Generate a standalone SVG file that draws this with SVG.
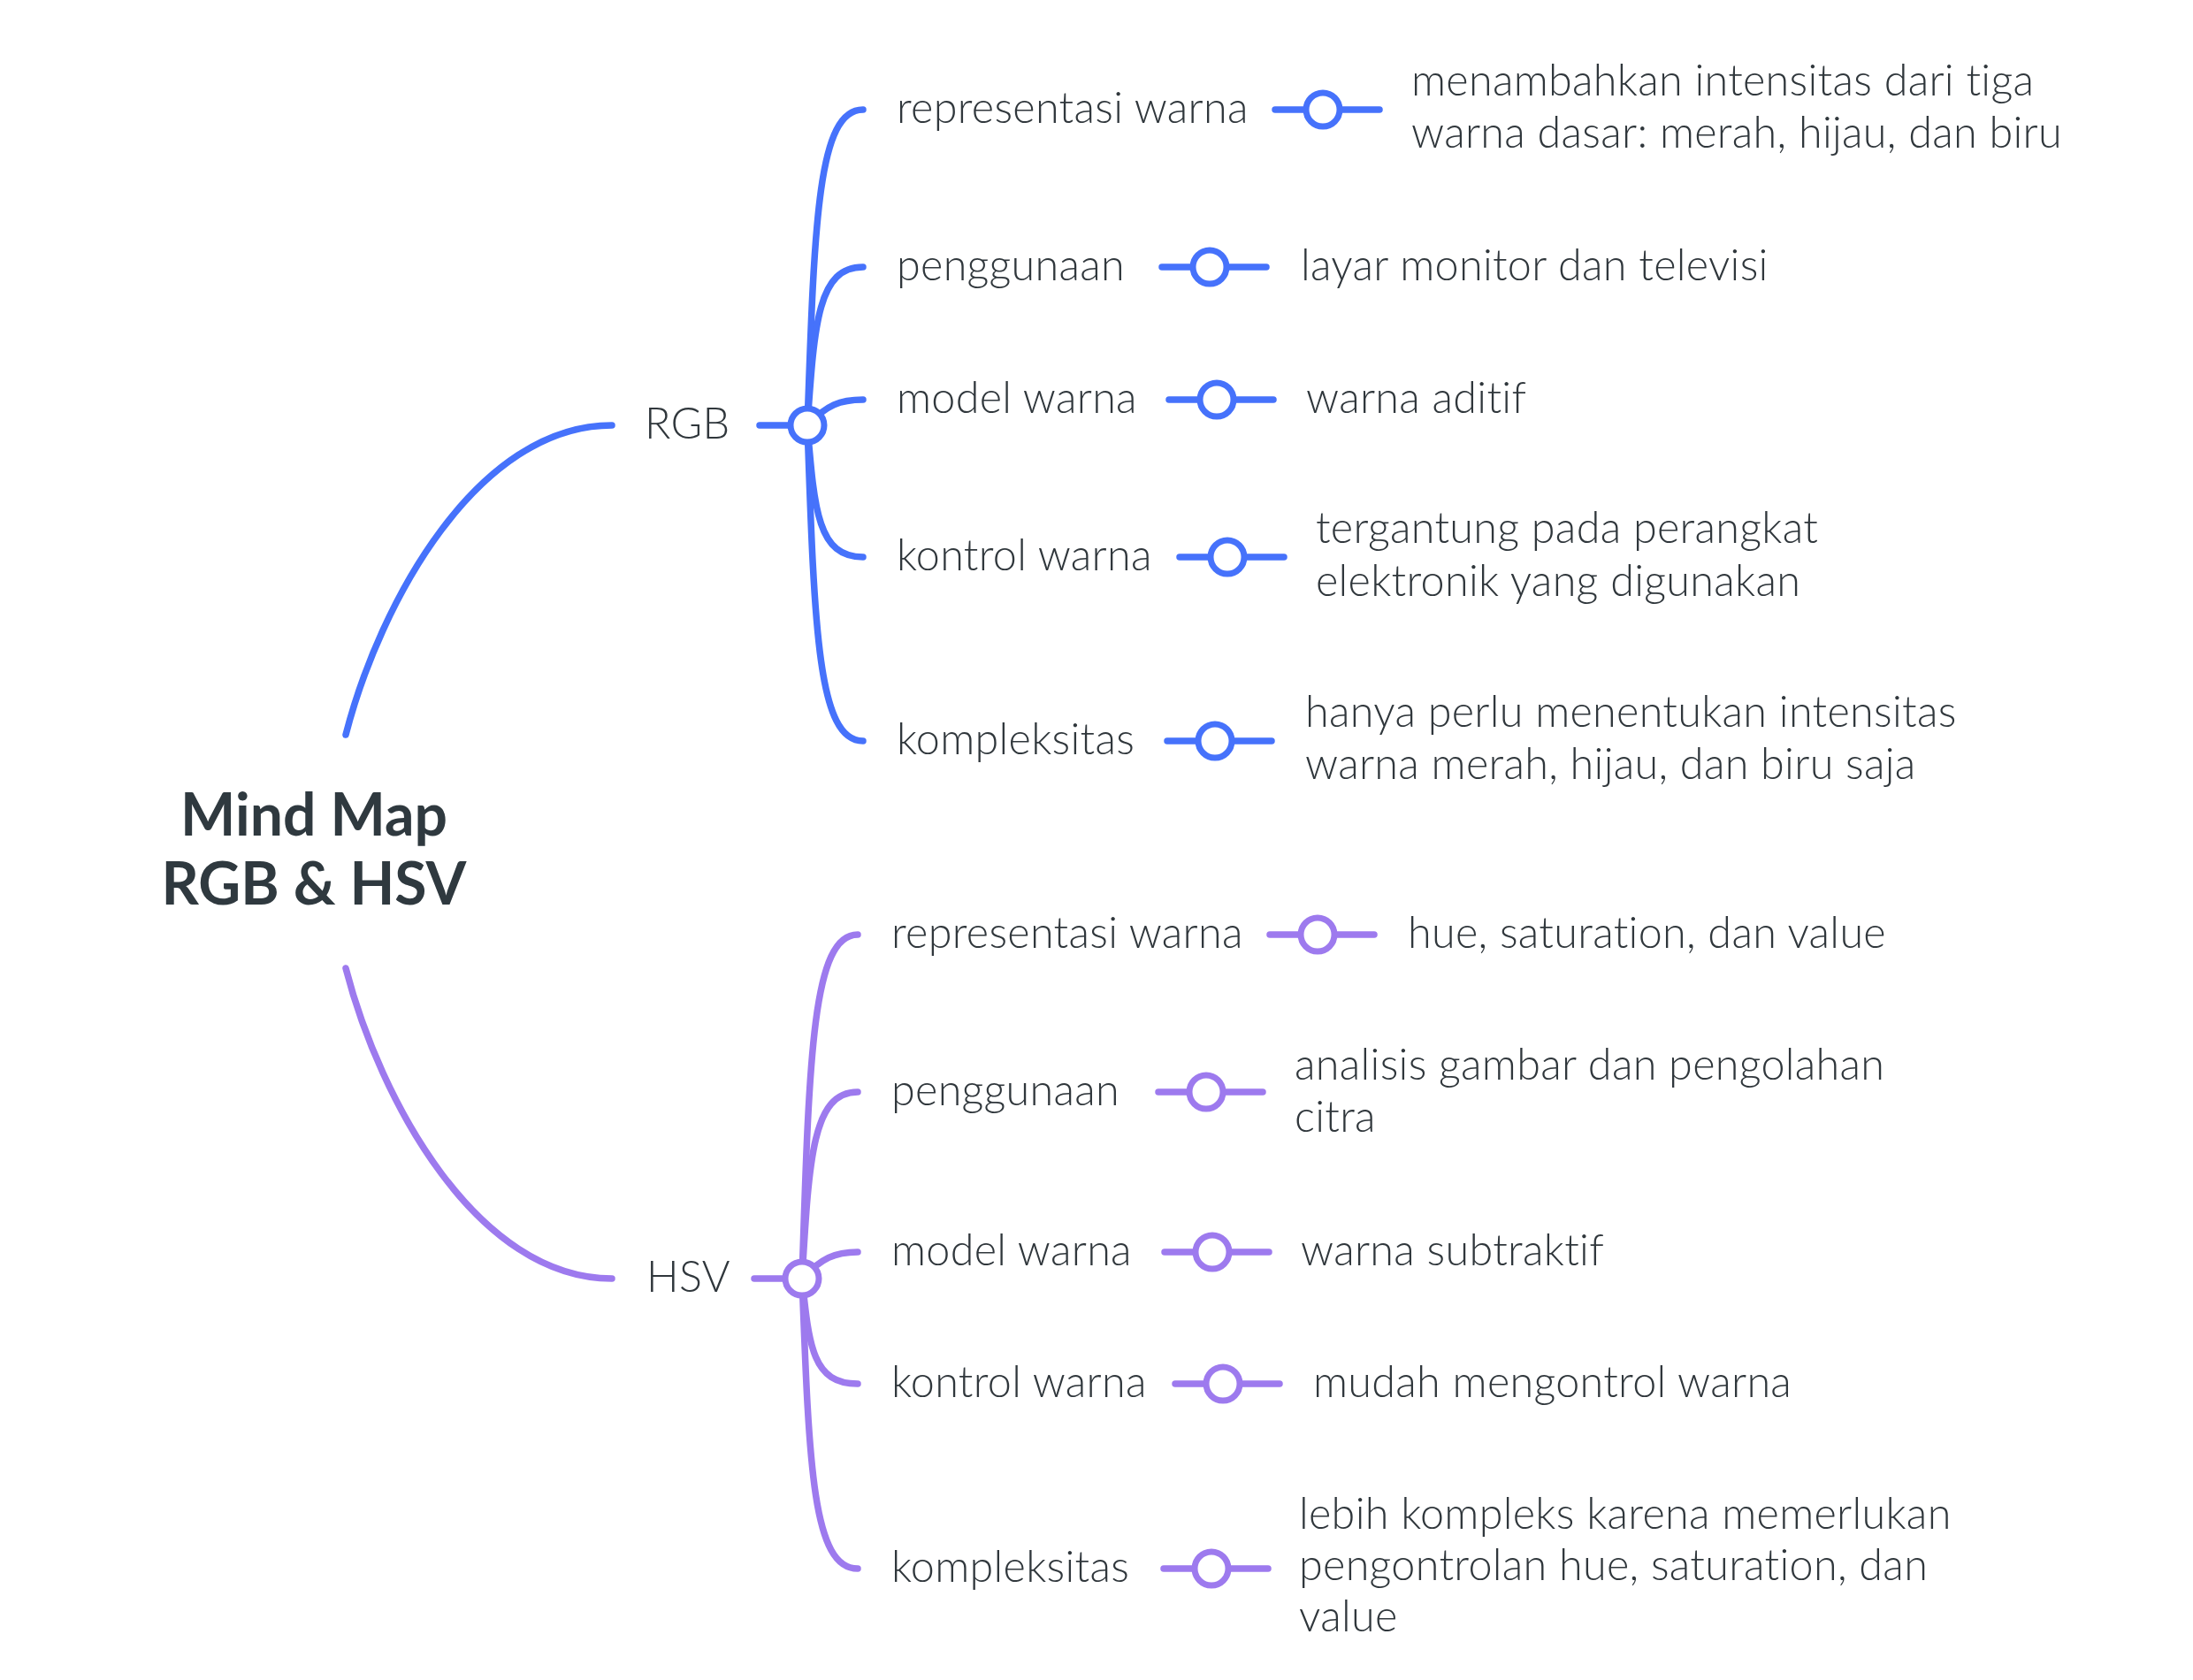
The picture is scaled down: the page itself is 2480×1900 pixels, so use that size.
<svg xmlns="http://www.w3.org/2000/svg" width="2480" height="1900" viewBox="0 0 2480 1900">
<style>
.t{font-family:Lato,"Liberation Sans",sans-serif;font-size:48.5px;font-weight:300;letter-spacing:0.3px;fill:#30373c}
.c{font-family:Lato,"Liberation Sans",sans-serif;font-size:66px;font-weight:700;fill:#2f393f;text-anchor:middle}
.b{fill:none;stroke-width:7.5;stroke-linecap:round}
.bl{stroke:#4672fb}
.pu{stroke:#9d7aee}
.k{fill:#fff;stroke-width:7}
</style>
<rect width="2480" height="1900" fill="#fff"/>
<g id="connectors">
<g class="b bl">
<path d="M391,831 C430,680 540,481 692,481"/>
<path d="M859,481 L913,481"/>
<path d="M913,481 C921,249 925,124 976,124"/>
<path d="M913,481 C921,365 925,302 976,302"/>
<path d="M913,481 C935,458 950,452 976,452"/>
<path d="M913,481 C921,578 925,630 976,630"/>
<path d="M913,481 C921,713 925,838 976,838"/>
<path d="M1442,124 H1560"/>
<path d="M1314,302 H1432"/>
<path d="M1322,452 H1440"/>
<path d="M1334,630 H1452"/>
<path d="M1320,838 H1438"/>
</g>
<g class="b pu">
<path d="M391,1095 C430,1246 540,1446 692,1446"/>
<path d="M853,1446 L907,1446"/>
<path d="M907,1446 C915,1193 919,1057 970,1057"/>
<path d="M907,1446 C915,1309 919,1235 970,1235"/>
<path d="M907,1446 C929,1423 944,1416 970,1416"/>
<path d="M907,1446 C915,1523 919,1565 970,1565"/>
<path d="M907,1446 C915,1659 919,1774 970,1774"/>
<path d="M1436,1057 H1554"/>
<path d="M1310,1235 H1428"/>
<path d="M1317,1416 H1435"/>
<path d="M1329,1565 H1447"/>
<path d="M1316,1774 H1434"/>
</g>
<g class="k bl">
<circle cx="913" cy="481" r="19"/>
<circle cx="1496" cy="124" r="19"/>
<circle cx="1368" cy="302" r="19"/>
<circle cx="1376" cy="452" r="19"/>
<circle cx="1388" cy="630" r="19"/>
<circle cx="1374" cy="838" r="19"/>
</g>
<g class="k pu">
<circle cx="907" cy="1446" r="19"/>
<circle cx="1490" cy="1057" r="19"/>
<circle cx="1364" cy="1235" r="19"/>
<circle cx="1371" cy="1416" r="19"/>
<circle cx="1383" cy="1565" r="19"/>
<circle cx="1370" cy="1774" r="19"/>
</g>
</g>
<g id="center"><text class="c" x="355" y="945">Mind Map</text><text class="c" x="355" y="1023">RGB &amp; HSV</text></g>
<g id="rgb"><text class="t" x="729" y="496">RGB</text></g>
<g id="rgb-rep"><text class="t" x="1014" y="139">representasi warna</text></g>
<g id="rgb-rep-v"><text class="t" x="1596" y="108">menambahkan intensitas dari tiga</text><text class="t" x="1596" y="167">warna dasar: merah, hijau, dan biru</text></g>
<g id="rgb-peng"><text class="t" x="1014" y="317">penggunaan</text></g>
<g id="rgb-peng-v"><text class="t" x="1471" y="317">layar monitor dan televisi</text></g>
<g id="rgb-model"><text class="t" x="1014" y="467">model warna</text></g>
<g id="rgb-model-v"><text class="t" x="1477" y="467">warna aditif</text></g>
<g id="rgb-kontrol"><text class="t" x="1014" y="645">kontrol warna</text></g>
<g id="rgb-kontrol-v"><text class="t" x="1488" y="614">tergantung pada perangkat</text><text class="t" x="1488" y="674">elektronik yang digunakan</text></g>
<g id="rgb-komp"><text class="t" x="1014" y="853">kompleksitas</text></g>
<g id="rgb-komp-v"><text class="t" x="1476" y="822">hanya perlu menentukan intensitas</text><text class="t" x="1476" y="881">warna merah, hijau, dan biru saja</text></g>
<g id="hsv"><text class="t" x="731" y="1461">HSV</text></g>
<g id="hsv-rep"><text class="t" x="1008" y="1072">representasi warna</text></g>
<g id="hsv-rep-v"><text class="t" x="1592" y="1072">hue, saturation, dan value</text></g>
<g id="hsv-peng"><text class="t" x="1008" y="1250">penggunaan</text></g>
<g id="hsv-peng-v"><text class="t" x="1464" y="1221">analisis gambar dan pengolahan</text><text class="t" x="1464" y="1280">citra</text></g>
<g id="hsv-model"><text class="t" x="1008" y="1431">model warna</text></g>
<g id="hsv-model-v"><text class="t" x="1471" y="1431">warna subtraktif</text></g>
<g id="hsv-kontrol"><text class="t" x="1008" y="1580">kontrol warna</text></g>
<g id="hsv-kontrol-v"><text class="t" x="1485" y="1580">mudah mengontrol warna</text></g>
<g id="hsv-komp"><text class="t" x="1008" y="1789">kompleksitas</text></g>
<g id="hsv-komp-v"><text class="t" x="1469" y="1729">lebih kompleks karena memerlukan</text><text class="t" x="1469" y="1787">pengontrolan hue, saturation, dan</text><text class="t" x="1469" y="1845">value</text></g>
</svg>
